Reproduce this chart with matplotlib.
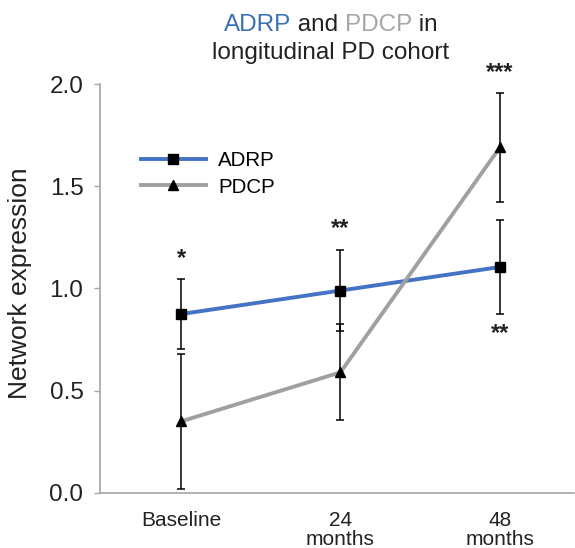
import matplotlib
matplotlib.use("Agg")
import matplotlib.pyplot as plt
from matplotlib.legend_handler import HandlerLine2D

plt.rcParams["font.family"] = ["Liberation Sans", "DejaVu Sans"]

# data
timepoints = ["Baseline", "24\nmonths", "48\nmonths"]
adrp_mean = [0.875, 0.99, 1.105]
adrp_err = [0.17, 0.20, 0.23]
pdcp_mean = [0.35, 0.59, 1.69]
pdcp_err = [0.33, 0.235, 0.265]
sig_above = ["*", "**", "***"]
sig_below_adrp = ["", "", "**"]

blue = "#4472c4"
gray = "#a0a0a0"
axis_gray = "#a6a6a6"


class HandlerMarkerLeft(HandlerLine2D):
    """Legend handler that puts the single marker at the left end of the line."""
    def get_xdata(self, legend, xdescent, ydescent, width, height, fontsize):
        xdata, _ = super().get_xdata(legend, xdescent, ydescent, width, height, fontsize)
        return xdata, [xdata[0]]


fig = plt.figure(figsize=(5.75, 5.48), dpi=100)
ax = fig.add_axes([0.174, 0.1004, 0.824, 0.7463])
x = list(range(len(timepoints)))

series = [
    ("ADRP", adrp_mean, adrp_err, blue, "s"),
    ("PDCP", pdcp_mean, pdcp_err, gray, "^"),
]
handles = []
for name, mean, err, color, marker in series:
    ax.plot(x, mean, color=color, linewidth=2.8, zorder=2, solid_capstyle="butt")
    ax.errorbar(x, mean, yerr=err, fmt="none", ecolor="black", elinewidth=1.1,
                capsize=3.2, capthick=1.1, zorder=3)
    ax.plot(x, mean, linestyle="none", marker=marker, markersize=7.5,
            color="black", zorder=4)
    h, = ax.plot([], [], color=color, linewidth=2.8, marker=marker,
                 markersize=6.5, markerfacecolor="black", markeredgecolor="black",
                 label=name)
    handles.append(h)

# significance stars
star_kw = dict(ha="center", va="center", fontsize=17, fontweight="bold",
               color="#222222", textcoords="offset points", annotation_clip=False)
for i, s in enumerate(sig_above):
    top = max(adrp_mean[i] + adrp_err[i], pdcp_mean[i] + pdcp_err[i])
    ax.annotate(s, xy=(x[i], top), xytext=(0, 15), **star_kw)
for i, s in enumerate(sig_below_adrp):
    if s:
        ax.annotate(s, xy=(x[i], adrp_mean[i] - adrp_err[i]), xytext=(0, -14), **star_kw)

ax.set_xlim(-0.508, 2.464)
ax.set_ylim(0, 2.0)
ax.set_yticks([0, 0.5, 1.0, 1.5, 2.0])
ax.set_yticklabels(["0.0", "0.5", "1.0", "1.5", "2.0"])
ax.set_xticks(x)
ax.set_xticklabels(timepoints, linespacing=1.0)
ax.tick_params(axis="y", colors=axis_gray, labelcolor="#222222", labelsize=17.5,
               length=4, width=1, pad=8)
ax.tick_params(axis="x", length=0, labelsize=15, labelcolor="#222222", pad=13)
for side in ["top", "right"]:
    ax.spines[side].set_visible(False)
for side in ["left", "bottom"]:
    ax.spines[side].set_color(axis_gray)
    ax.spines[side].set_linewidth(1.2)

fig.text(20 / 575, 1 - 283 / 548, "Network expression", rotation=90,
         ha="center", va="center", fontsize=19, color="#222222")

ax.legend(handles=handles, loc="upper left", bbox_to_anchor=(141 / 575, 1 - 151 / 548),
          bbox_transform=fig.transFigure, frameon=False, fontsize=14.8,
          handlelength=3.16, handletextpad=0.58, labelspacing=0.37,
          borderpad=0, borderaxespad=0,
          handler_map={h: HandlerMarkerLeft() for h in handles})

# two-colour title, built piece by piece
title_kw = dict(fontsize=17.5, va="bottom")
t1 = fig.text(0, 1 - 36 / 548, "ADRP", color="#3a70b5", **title_kw)
t2 = ax.annotate(" and ", xy=(1, 0), xycoords=t1, color="#222222", **title_kw)
t3 = ax.annotate("PDCP", xy=(1, 0), xycoords=t2, color="#a6a6a6", **title_kw)
t4 = ax.annotate(" in", xy=(1, 0), xycoords=t3, color="#222222", **title_kw)
fig.canvas.draw()
r = fig.canvas.get_renderer()
x0 = t1.get_window_extent(r).x0
x1 = t4.get_window_extent(r).x1
t1.set_x((331 - (x1 - x0) / 2) / 575)
fig.text(331 / 575, 1 - 64 / 548, "longitudinal PD cohort", ha="center",
         color="#222222", **title_kw)

fig.savefig("out.png", dpi=100)
